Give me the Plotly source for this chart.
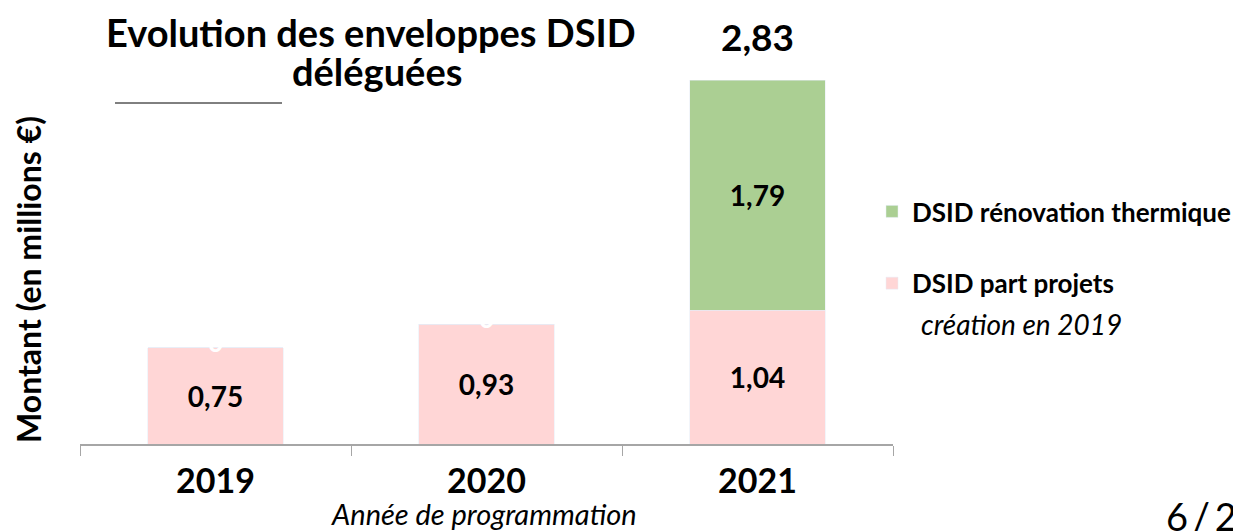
import plotly.graph_objects as go

years = ["2019", "2020", "2021"]
part_projets = [0.75, 0.93, 1.04]
renovation = [0, 0, 1.79]
series_names = ["DSID part projets", "DSID rénovation thermique"]
colors = ["#FFD6D6", "#ABCF93"]
totals = [round(a + b, 2) for a, b in zip(part_projets, renovation)]

FONT = "Lato"

def fmt(v):
    return f"{v:.2f}".replace(".", ",")

fig = go.Figure()
fig.add_trace(go.Bar(
    x=years, y=part_projets, name=series_names[0], marker_color=colors[0],
    text=[fmt(v) for v in part_projets],
    textposition="inside", insidetextanchor="middle", textangle=0,
    textfont=dict(family=FONT, size=28, color="black", weight="bold"),
    legendgroup="a", legendrank=2,
))
fig.add_trace(go.Bar(
    x=years, y=renovation, name=series_names[1], marker_color=colors[1],
    text=[fmt(v) if v > 0 else "" for v in renovation],
    textposition="inside", insidetextanchor="middle", textangle=0,
    textfont=dict(family=FONT, size=28, color="black", weight="bold"),
    legendgroup="b", legendrank=1,
))

annotations = []
# zero labels of the green series (white, partly hidden) - x given as category index
for i, (p, r) in enumerate(zip(part_projets, renovation)):
    if r == 0:
        annotations.append(dict(x=i, y=p, xref="x", yref="y", text="0", showarrow=False,
                                font=dict(family=FONT, size=26, color="white", weight="bold"),
                                yanchor="middle", xanchor="center", yshift=6))
# total label for the stacked 2021 bar
for i, (t, r) in enumerate(zip(totals, renovation)):
    if r > 0:
        annotations.append(dict(x=i, y=t, xref="x", yref="y", text=fmt(t),
                                showarrow=False, yanchor="bottom", xanchor="center", yshift=19,
                                font=dict(family=FONT, size=37, color="black", weight="bold")))

OFF = 8  # page body margin
W, H = 1241 - OFF, 531 - OFF
# target plot area in screenshot pixels
X0, X1, Y0, Y1 = 80, 893, 20, 444
L, R, T, B = X0 - OFF, W - (X1 - OFF), Y0 - OFF, H - (Y1 - OFF)

def px(xs):
    return (xs - X0) / (X1 - X0)

def py(ys):
    return (Y1 - ys) / (Y1 - Y0)

annotations += [
    dict(x=px(371), y=py(32), xref="paper", yref="paper", showarrow=False,
         xanchor="center", yanchor="middle",
         text="Evolution des enveloppes DSID",
         font=dict(family=FONT, size=38, color="black", weight="bold")),
    dict(x=px(377), y=py(71), xref="paper", yref="paper", showarrow=False,
         xanchor="center", yanchor="middle",
         text="déléguées",
         font=dict(family=FONT, size=38, color="black", weight="bold")),
    dict(x=px(28), y=py(280), xref="paper", yref="paper", showarrow=False, textangle=-90,
         xanchor="center", yanchor="middle",
         text="Montant (en millions €)",
         font=dict(family=FONT, size=32, color="black", weight="bold")),
    dict(x=px(484), y=py(514), xref="paper", yref="paper", showarrow=False,
         xanchor="center", yanchor="middle",
         text="<i>Année de programmation</i>",
         font=dict(family=FONT, size=29, color="black")),
    dict(x=px(919), y=py(324), xref="paper", yref="paper", showarrow=False,
         xanchor="left", yanchor="middle",
         text="<i>création en 2019</i>",
         font=dict(family=FONT, size=28, color="black")),
    dict(x=px(1164), y=py(516), xref="paper", yref="paper", showarrow=False,
         xanchor="left", yanchor="middle",
         text="6\u2009/\u20092", font=dict(family=FONT, size=38, color="black")),
]

fig.update_layout(
    width=W, height=H,
    margin=dict(l=L, r=R, t=T, b=B, autoexpand=False),
    barmode="stack", bargap=0.5,
    plot_bgcolor="white", paper_bgcolor="white",
    separators=", ",
    showlegend=True,
    legend=dict(x=px(872), y=py(188), xanchor="left", yanchor="top",
                traceorder="grouped", tracegroupgap=35,
                font=dict(family=FONT, size=26, color="black", weight="bold"),
                bgcolor="rgba(0,0,0,0)"),
    annotations=annotations,
    shapes=[dict(type="line", xref="paper", yref="paper", x0=px(115), x1=px(282),
                 y0=py(103), y1=py(103), line=dict(color="black", width=1))],
    xaxis=dict(type="category", showline=True, linecolor="#A6A6A6", linewidth=1.5,
               ticks="outside", tickson="boundaries", ticklen=10, tickcolor="#A6A6A6",
               ticklabelstandoff=6,
               tickfont=dict(family=FONT, size=34, color="black", weight="bold"),
               showgrid=False, automargin=False, range=[-0.5, 2.5]),
    yaxis=dict(range=[0, (Y1 - Y0) / 128.6], visible=False, showgrid=False, zeroline=False),
)

fig.write_html("out.html")
